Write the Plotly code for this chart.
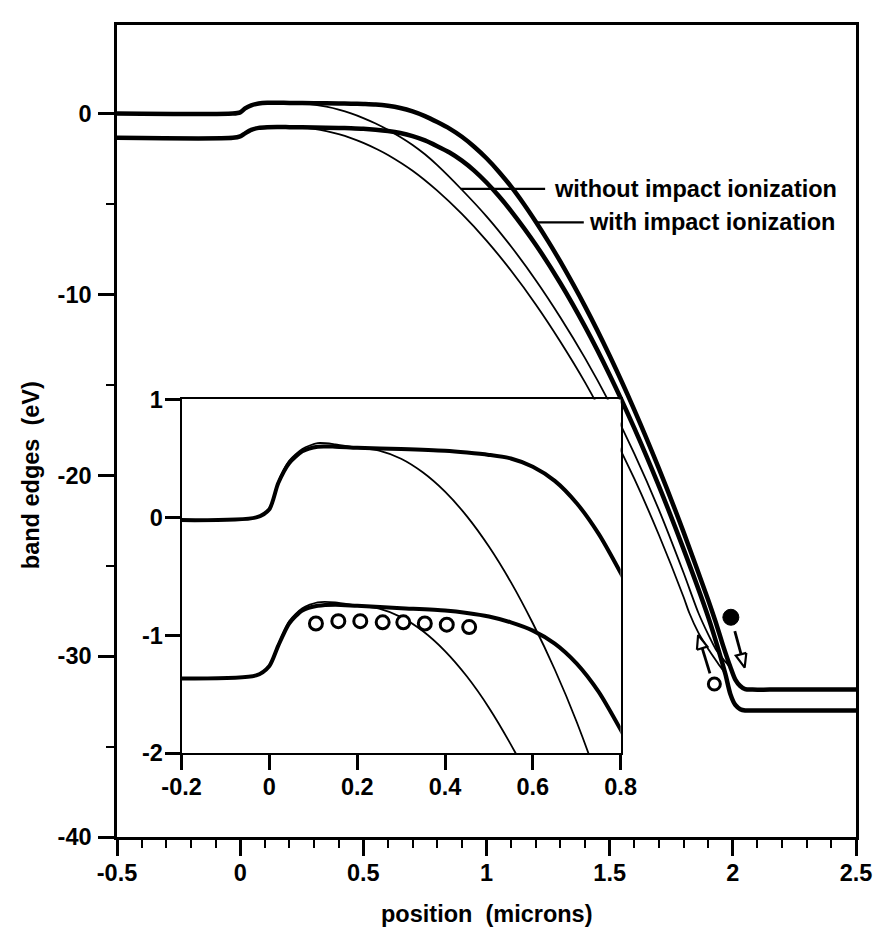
import math
import plotly.graph_objects as go

# ---------------- data ----------------
# thick curves: with impact ionization
x_cb_with = [-0.5, -0.03, 0.0, 0.02, 0.045, 0.075, 0.11, 0.15, 0.2, 0.3, 0.4, 0.45, 0.5, 0.55, 0.6,
             0.65, 0.7, 0.75, 0.8, 0.85, 0.9, 0.95, 1.0, 1.05, 1.1, 1.15, 1.2, 1.25, 1.3, 1.4, 1.5,
             1.6, 1.7, 1.8, 1.9, 1.93, 1.96, 1.99, 2.01, 2.03, 2.05, 2.08, 2.15, 2.5]
y_cb_with = [0.0, 0.0, 0.07, 0.29, 0.46, 0.56, 0.60, 0.60, 0.59, 0.58, 0.565, 0.55, 0.53, 0.50, 0.43,
             0.31, 0.12, -0.14, -0.47, -0.83, -1.28, -1.83, -2.47, -3.21, -4.04, -4.97, -5.98, -7.05,
             -8.19, -10.66, -13.39, -16.38, -19.63, -23.14, -26.9, -28.1, -29.4, -30.6, -31.3, -31.65,
             -31.82, -31.85, -31.85, -31.85]

x_vb_with = [-0.5, -0.03, 0.0, 0.02, 0.045, 0.075, 0.11, 0.15, 0.2, 0.3, 0.4, 0.45, 0.5, 0.55, 0.6,
             0.65, 0.7, 0.75, 0.8, 0.85, 0.9, 0.95, 1.0, 1.05, 1.1, 1.2, 1.3, 1.4, 1.5, 1.6, 1.7,
             1.8, 1.9, 1.945, 1.97, 1.99, 2.01, 2.03, 2.05, 2.15, 2.5]
y_vb_with = [-1.34, -1.34, -1.26, -1.09, -0.90, -0.79, -0.75, -0.74, -0.75, -0.77, -0.79, -0.81, -0.84,
             -0.89, -0.96, -1.07, -1.24, -1.48, -1.80, -2.15, -2.60, -3.15, -3.81, -4.56, -5.39,
             -7.25, -9.38, -11.78, -14.45, -17.39, -20.6, -24.08, -27.83, -29.8, -31.0, -32.1,
             -32.7, -32.93, -33.0, -33.0, -33.0]

# thin curves: without impact ionization
x_cb_without = [-0.5, -0.03, 0.0, 0.02, 0.045, 0.075, 0.11, 0.15, 0.2, 0.25, 0.3, 0.35, 0.4, 0.45,
                0.5, 0.55, 0.6, 0.65, 0.7, 0.75, 0.8, 0.9, 1.0, 1.1, 1.2, 1.3, 1.4, 1.5, 1.6, 1.7,
                1.8, 1.86, 1.9, 1.93, 1.96, 1.99, 2.01, 2.03, 2.05, 2.08, 2.15, 2.5]
y_cb_without = [0.0, 0.0, 0.07, 0.30, 0.48, 0.58, 0.63, 0.62, 0.59, 0.567, 0.497, 0.38, 0.218, 0.009,
                -0.247, -0.549, -0.898, -1.29, -1.735, -2.25, -2.85, -4.21, -5.68, -7.35, -9.21,
                -11.27, -13.52, -16.01, -18.8, -21.91, -25.39, -27.6, -28.8, -29.6, -30.15, -30.65,
                -31.3, -31.65, -31.82, -31.85, -31.85, -31.85]

x_vb_without = [-0.5, -0.03, 0.0, 0.02, 0.045, 0.075, 0.11, 0.15, 0.2, 0.25, 0.3, 0.35, 0.4, 0.45,
                0.5, 0.56, 0.6, 0.7, 0.8, 0.9, 1.0, 1.1, 1.2, 1.3, 1.4, 1.5, 1.6, 1.7, 1.8, 1.823,
                1.86, 1.9, 1.94, 1.97, 1.99, 2.01, 2.03, 2.05, 2.15, 2.5]
y_vb_without = [-1.34, -1.34, -1.26, -1.08, -0.88, -0.77, -0.72, -0.72, -0.75, -0.774, -0.846, -0.966,
                -1.134, -1.35, -1.614, -1.994, -2.286, -3.16, -4.26, -5.55, -7.02, -8.69, -10.55,
                -12.61, -14.86, -17.4, -20.19, -23.3, -26.73, -27.6, -28.7, -29.6, -30.4, -31.0,
                -32.1, -32.7, -32.93, -33.0, -33.0, -33.0]

# open circles in the inset
circ_x = [0.106, 0.157, 0.207, 0.258, 0.305, 0.354, 0.404, 0.455]
circ_y = [-0.90, -0.88, -0.88, -0.89, -0.89, -0.90, -0.91, -0.93]

# electron (filled) and hole (open) in the main plot
electron_xy = [1.992, -27.85]
hole_xy = [1.925, -31.54]
electron_arrow = [[2.008, -28.61], [2.048, -30.63]]   # tail, tip
hole_arrow = [[1.907, -30.95], [1.859, -28.83]]        # tail, tip

# label leader lines
leader_without = [[0.895, 1.238], [-4.16, -4.16]]
leader_with = [[1.206, 1.395], [-6.01, -6.01]]
label_without = "without impact ionization"
label_with = "with impact ionization"

main_xticks = [-0.5, 0, 0.5, 1, 1.5, 2, 2.5]
main_xlabels = ["-0.5", "0", "0.5", "1", "1.5", "2", "2.5"]
main_xminor = [-0.4, -0.3, -0.2, -0.1, 0.1, 0.2, 0.3, 0.4, 0.6, 0.7, 0.8, 0.9, 1.1, 1.2, 1.3, 1.4,
               1.6, 1.7, 1.8, 1.9, 2.1, 2.2, 2.3, 2.4]
main_yticks = [0, -10, -20, -30, -40]
main_ylabels = ["0", "-10", "-20", "-30", "-40"]
main_yminor = [-5, -15, -25, -35]
inset_xticks = [-0.2, 0, 0.2, 0.4, 0.6, 0.8]
inset_xlabels = ["-0.2", "0", "0.2", "0.4", "0.6", "0.8"]
inset_yticks = [1, 0, -1, -2]
inset_ylabels = ["1", "0", "-1", "-2"]

# ---------------- figure ----------------
FONT = "Liberation Sans, Arial, Helvetica, sans-serif"
FS = 23.5
W, H = 884, 944
ML, MR, MT, MB = 117, 23, 13, 107
XR = [-0.5, 2.5]
YR = [-40, 4.9]
PX_X = (W - ML - MR) / (XR[1] - XR[0])
PX_Y = (H - MT - MB) / (YR[1] - YR[0])

fig = go.Figure()

curves = [
    (x_cb_without, y_cb_without, 1.8),
    (x_vb_without, y_vb_without, 1.8),
    (x_cb_with, y_cb_with, 4.5),
    (x_vb_with, y_vb_with, 4.5),
]
for xs, ys, w in curves:
    fig.add_trace(go.Scatter(x=xs, y=ys, mode="lines", xaxis="x", yaxis="y",
                             line=dict(color="black", width=w, shape="spline", smoothing=0.7),
                             hoverinfo="skip"))

# leader lines
for ld in (leader_without, leader_with):
    fig.add_trace(go.Scatter(x=ld[0], y=ld[1], mode="lines", xaxis="x", yaxis="y",
                             line=dict(color="black", width=2.2), hoverinfo="skip"))


def arrow_traces(tail, tip, head_len=14.0, half_w=5.5):
    tx, ty = tail[0] * PX_X, tail[1] * PX_Y
    hx, hy = tip[0] * PX_X, tip[1] * PX_Y
    L = math.hypot(hx - tx, hy - ty)
    ux, uy = (hx - tx) / L, (hy - ty) / L
    bx, by = hx - ux * head_len, hy - uy * head_len
    nx, ny = -uy, ux
    c1 = ((bx + nx * half_w) / PX_X, (by + ny * half_w) / PX_Y)
    c2 = ((bx - nx * half_w) / PX_X, (by - ny * half_w) / PX_Y)
    shaft = go.Scatter(x=[tail[0], bx / PX_X], y=[tail[1], by / PX_Y], mode="lines",
                       xaxis="x", yaxis="y", line=dict(color="black", width=2.8), hoverinfo="skip")
    head = go.Scatter(x=[c1[0], tip[0], c2[0], c1[0]], y=[c1[1], tip[1], c2[1], c1[1]],
                      mode="lines", fill="toself", fillcolor="white", xaxis="x", yaxis="y",
                      line=dict(color="black", width=2.2), hoverinfo="skip")
    return [shaft, head]


for tr in arrow_traces(*electron_arrow) + arrow_traces(*hole_arrow):
    fig.add_trace(tr)

fig.add_trace(go.Scatter(x=[electron_xy[0]], y=[electron_xy[1]], mode="markers", xaxis="x", yaxis="y",
                         marker=dict(symbol="circle", size=16, color="black",
                                     line=dict(color="black", width=1)), hoverinfo="skip"))
fig.add_trace(go.Scatter(x=[hole_xy[0]], y=[hole_xy[1]], mode="markers", xaxis="x", yaxis="y",
                         marker=dict(symbol="circle", size=12, color="white",
                                     line=dict(color="black", width=3)), hoverinfo="skip"))

# inset traces
inset_curves = [
    (x_cb_without, y_cb_without, 1.8),
    (x_vb_without, y_vb_without, 1.8),
    (x_cb_with, y_cb_with, 4.0),
    (x_vb_with, y_vb_with, 4.0),
]
for xs, ys, w in inset_curves:
    fig.add_trace(go.Scatter(x=xs, y=ys, mode="lines", xaxis="x2", yaxis="y2",
                             line=dict(color="black", width=w, shape="spline", smoothing=0.7),
                             hoverinfo="skip"))
fig.add_trace(go.Scatter(x=circ_x, y=circ_y, mode="markers", xaxis="x2", yaxis="y2",
                         marker=dict(symbol="circle", size=13, color="white",
                                     line=dict(color="black", width=3)), hoverinfo="skip"))

tickfont = dict(family=FONT, size=FS, color="black", weight="bold")

fig.update_layout(
    width=W, height=H,
    margin=dict(l=ML, r=MR, t=MT, b=MB, pad=0),
    paper_bgcolor="white", plot_bgcolor="white",
    showlegend=False,
    xaxis=dict(domain=[0, 1], range=XR, anchor="y", showgrid=False, zeroline=False,
               showline=True, linecolor="black", linewidth=2.5, mirror=True,
               ticks="outside", ticklen=16, tickwidth=2.5, tickcolor="black",
               tickmode="array", tickvals=main_xticks, ticktext=main_xlabels, tickfont=tickfont,
               ticklabelstandoff=-3,
               minor=dict(tickmode="array", tickvals=main_xminor, ticks="outside", ticklen=8,
                          tickwidth=2, tickcolor="black")),
    yaxis=dict(domain=[0, 1], range=YR, anchor="x", showgrid=False, zeroline=False,
               showline=True, linecolor="black", linewidth=2.5, mirror=True,
               ticks="outside", ticklen=16, tickwidth=2.5, tickcolor="black",
               tickmode="array", tickvals=main_yticks, ticktext=main_ylabels, tickfont=tickfont,
               ticklabelstandoff=2,
               minor=dict(tickmode="array", tickvals=main_yminor, ticks="outside", ticklen=8,
                          tickwidth=2, tickcolor="black")),
    xaxis2=dict(domain=[0.0874, 0.6815], range=[-0.2, 0.8], anchor="y2", showgrid=False,
                zeroline=False, showline=True, linecolor="black", linewidth=2, mirror=True,
                ticks="outside", ticklen=15, tickwidth=2.5, tickcolor="black",
                tickmode="array", tickvals=inset_xticks, ticktext=inset_xlabels, tickfont=tickfont,
                ticklabelstandoff=-3),
    yaxis2=dict(domain=[0.1032, 0.5388], range=[-2, 1], anchor="x2", showgrid=False,
                zeroline=False, showline=True, linecolor="black", linewidth=2, mirror=True,
                ticks="outside", ticklen=15, tickwidth=2.5, tickcolor="black",
                tickmode="array", tickvals=inset_yticks, ticktext=inset_ylabels, tickfont=tickfont,
                ticklabelstandoff=-3),
)

labfont = dict(family=FONT, size=FS, color="black", weight="bold")
fig.add_annotation(x=1.266, y=leader_without[1][0], xref="x", yref="y", text=label_without,
                   showarrow=False, xanchor="left", yanchor="middle", font=labfont)
fig.add_annotation(x=1.407, y=leader_with[1][0], xref="x", yref="y", text=label_with,
                   showarrow=False, xanchor="left", yanchor="middle", font=labfont)

# axis titles
fig.add_annotation(x=0.501, y=-0.0947, xref="paper", yref="paper",
                   text="position\u00a0 (microns)", showarrow=False,
                   xanchor="center", yanchor="middle", font=labfont)
fig.add_annotation(x=-0.117, y=0.445, xref="paper", yref="paper",
                   text="band edges\u00a0 (eV)", showarrow=False, textangle=-90,
                   xanchor="center", yanchor="middle", font=labfont)

fig.write_html("out.html")
